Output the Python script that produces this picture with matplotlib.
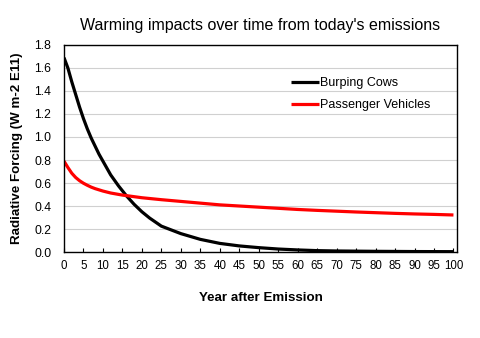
import matplotlib
matplotlib.use("Agg")
import matplotlib.pyplot as plt

# values
cow_years = [0, 1, 2, 3, 4, 5, 6, 7, 8, 9, 10, 12, 14, 16, 18, 20, 22, 25,
             30, 35, 40, 45, 50, 55, 60, 65, 70, 80, 90, 100]
cow_rf = [1.69, 1.60, 1.48, 1.37, 1.26, 1.16, 1.07, 0.99, 0.92, 0.85, 0.79,
          0.67, 0.575, 0.49, 0.415, 0.35, 0.295, 0.225,
          0.16, 0.11, 0.075, 0.053, 0.038, 0.026, 0.018, 0.012, 0.009,
          0.006, 0.004, 0.003]

car_years = [0, 1, 2, 3, 4, 5, 6, 7, 8, 10, 12, 15, 20, 25, 30, 35, 40, 45,
             50, 55, 60, 65, 70, 75, 80, 85, 90, 95, 100]
car_rf = [0.79, 0.735, 0.685, 0.648, 0.62, 0.598, 0.58, 0.564, 0.551, 0.53,
          0.513, 0.495, 0.472, 0.455, 0.44, 0.425, 0.41, 0.40,
          0.39, 0.38, 0.37, 0.362, 0.355, 0.348, 0.342, 0.336, 0.331,
          0.327, 0.322]

x_ticks = list(range(0, 101, 5))
y_ticks = [0.0, 0.2, 0.4, 0.6, 0.8, 1.0, 1.2, 1.4, 1.6, 1.8]

plt.rcParams['font.family'] = ['Liberation Sans', 'DejaVu Sans']

fig = plt.figure(figsize=(4.8, 3.38), dpi=100)
ax = fig.add_axes([0.1333, 0.2544, 0.8187, 0.6125])

ax.plot(cow_years, cow_rf, color='black', lw=2.3, label='Burping Cows',
        solid_capstyle='butt')
ax.plot(car_years, car_rf, color='#ff0000', lw=2.3, label='Passenger Vehicles',
        solid_capstyle='butt')

ax.set_xlim(0, 100.9)
ax.set_ylim(0, 1.8)
ax.set_xticks(x_ticks)
ax.set_yticks(y_ticks)
ax.set_yticklabels(['%.1f' % v for v in y_ticks])
ax.tick_params(axis='x', direction='in', length=3, width=0.8, labelsize=8.3, pad=6)
ax.tick_params(axis='y', length=0, labelsize=8.7, pad=9)
ax.grid(axis='y', color='#d0d0d0', lw=0.8)
ax.set_axisbelow(True)
for s in ax.spines.values():
	s.set_linewidth(1.0)
	s.set_color('black')

ax.set_title("Warming impacts over time from today's emissions", fontsize=11.5, pad=11)
ax.set_xlabel('Year after Emission', fontsize=9.6, fontweight='bold', labelpad=14)
ax.set_ylabel('Radiative Forcing (W m-2 E11)', fontsize=9.6, fontweight='bold', labelpad=8)

ax.legend(loc='upper left', bbox_to_anchor=(0.55, 0.9), frameon=False,
          fontsize=9, handlelength=2.2, handletextpad=0.1, labelspacing=0.8)

fig.savefig('out.png', dpi=100)
